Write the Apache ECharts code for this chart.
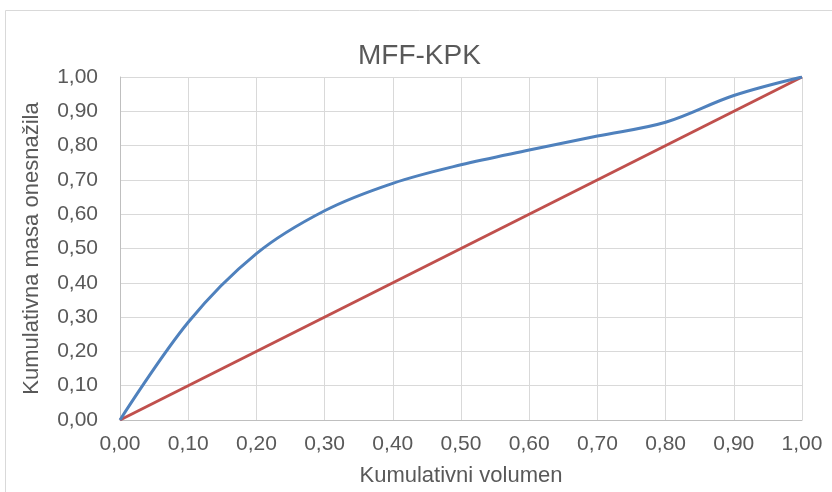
<!DOCTYPE html>
<html>
<head>
<meta charset="utf-8">
<script src="https://cdn.jsdelivr.net/npm/echarts@6/dist/echarts.min.js"></script>
<style>
  html, body { margin: 0; padding: 0; background: #fff; }
  #chart { width: 832px; height: 492px; }
</style>
</head>
<body>
<div id="chart"></div>
<script>
// Cumulative volume (x) against cumulative pollutant mass (y)
const volume = [0, 0.1, 0.2, 0.3, 0.4, 0.5, 0.6, 0.7, 0.8, 0.9, 1.0];
const massCurve = [0, 0.285, 0.485, 0.61, 0.69, 0.744, 0.787, 0.828, 0.868, 0.946, 1.0];
// 1:1 reference line
const refX = [0, 1];
const refY = [0, 1];
const tickFmt = v => v.toFixed(2).replace('.', ',');

const font = '"Liberation Sans", Arial, sans-serif';
const textColor = '#595959';

const chart = echarts.init(document.getElementById('chart'), null, { renderer: 'canvas' });
chart.setOption({
  animation: false,
  backgroundColor: '#fff',
  graphic: [{
    type: 'rect',
    shape: { x: 5.5, y: 10.5, width: 900, height: 600 },
    style: { fill: 'none', stroke: '#d9d9d9', lineWidth: 1 },
    silent: true
  }],
  title: {
    text: 'MFF-KPK',
    left: 353,
    top: 37,
    textStyle: { fontFamily: font, fontSize: 28, fontWeight: 'normal', color: textColor }
  },
  grid: { left: 120, right: 30, top: 77, bottom: 66, containLabel: false },
  xAxis: {
    type: 'value',
    min: 0, max: 1, interval: 0.1,
    name: 'Kumulativni volumen',
    nameLocation: 'middle',
    nameGap: 45,
    nameTextStyle: { fontFamily: font, fontSize: 22, color: textColor },
    axisLine: { show: true, lineStyle: { color: '#bfbfbf', width: 1 } },
    axisTick: { show: false },
    splitLine: { show: true, lineStyle: { color: '#d9d9d9', width: 1 } },
    axisLabel: { fontFamily: font, fontSize: 21, color: textColor, margin: 14, formatter: tickFmt }
  },
  yAxis: {
    type: 'value',
    min: 0, max: 1, interval: 0.1,
    name: 'Kumulativna masa onesnažila',
    nameLocation: 'middle',
    nameGap: 77,
    nameTextStyle: { fontFamily: font, fontSize: 22, color: textColor },
    axisLine: { show: true, lineStyle: { color: '#bfbfbf', width: 1 } },
    axisTick: { show: false },
    splitLine: { show: true, lineStyle: { color: '#d9d9d9', width: 1 } },
    axisLabel: { fontFamily: font, fontSize: 21, color: textColor, margin: 22, formatter: tickFmt }
  },
  series: [
    {
      type: 'line',
      data: volume.map((x, i) => [x, massCurve[i]]),
      smooth: 0.35,
      showSymbol: false,
      lineStyle: { color: '#4f81bd', width: 3 },
      z: 3
    },
    {
      type: 'line',
      data: refX.map((x, i) => [x, refY[i]]),
      showSymbol: false,
      lineStyle: { color: '#c0504d', width: 3 },
      z: 2
    }
  ]
});
</script>
</body>
</html>
